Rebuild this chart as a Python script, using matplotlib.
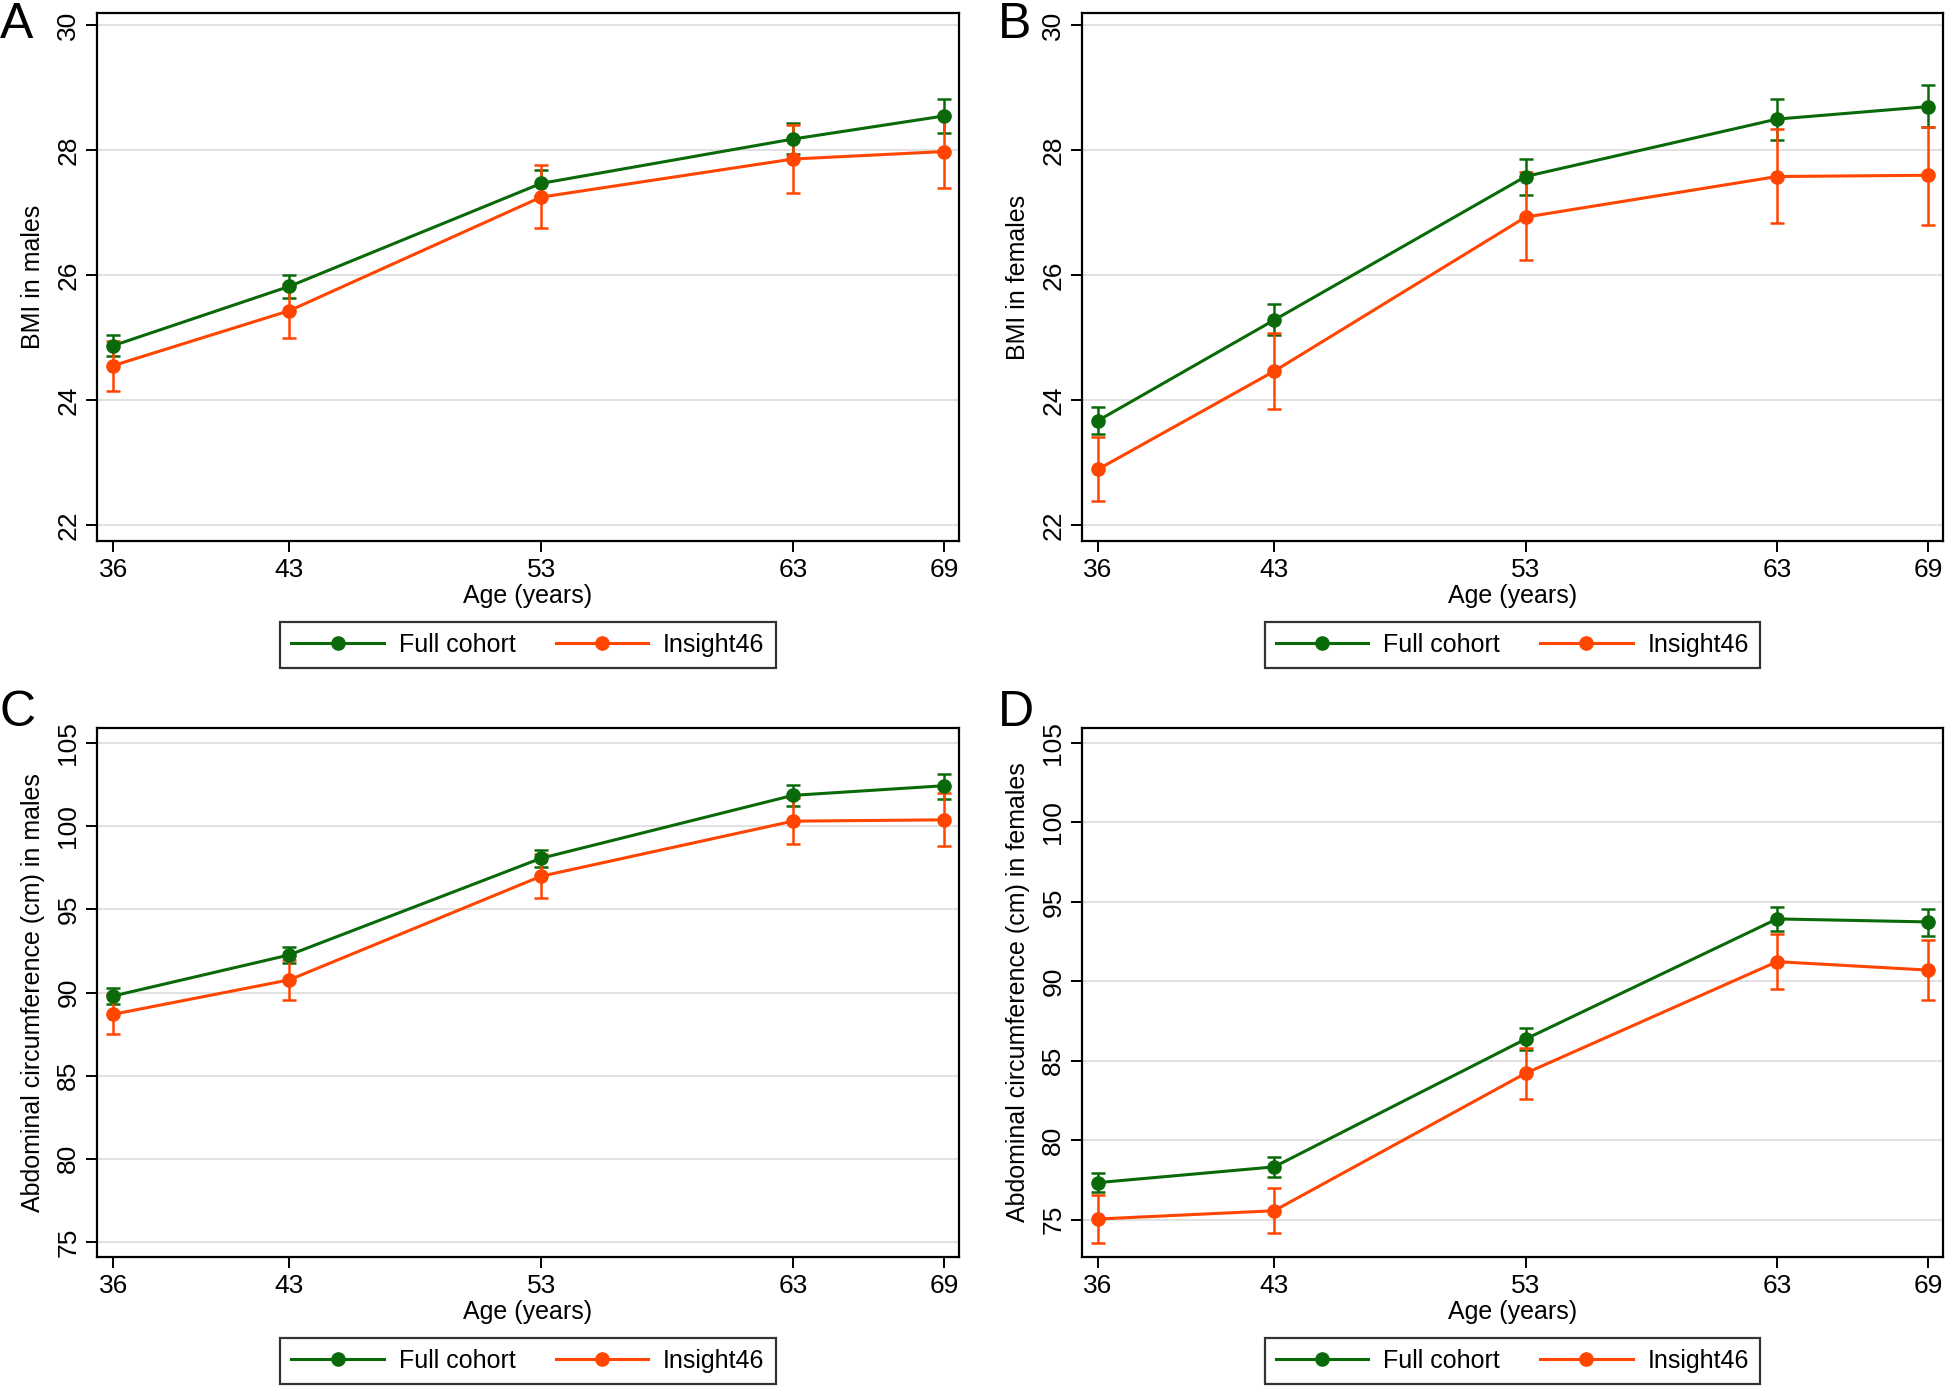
import matplotlib
matplotlib.use("Agg")
import matplotlib.pyplot as plt

plt.rcParams['font.family'] = ['Liberation Sans', 'DejaVu Sans']

ages = [36, 43, 53, 63, 69]

# BMI males (panel A)
bmi_m_full = [24.87, 25.82, 27.47, 28.18, 28.55]
bmi_m_full_lo = [24.70, 25.64, 27.26, 27.94, 28.27]
bmi_m_full_hi = [25.04, 26.00, 27.68, 28.43, 28.83]
bmi_m_ins = [24.55, 25.43, 27.25, 27.86, 27.98]
bmi_m_ins_lo = [24.15, 25.00, 26.76, 27.32, 27.39]
bmi_m_ins_hi = [24.95, 25.86, 27.77, 28.40, 28.57]

# BMI females (panel B)
bmi_f_full = [23.67, 25.28, 27.58, 28.50, 28.70]
bmi_f_full_lo = [23.46, 25.04, 27.28, 28.17, 28.37]
bmi_f_full_hi = [23.88, 25.53, 27.86, 28.82, 29.04]
bmi_f_ins = [22.89, 24.46, 26.93, 27.58, 27.60]
bmi_f_ins_lo = [22.38, 23.86, 26.24, 26.83, 26.81]
bmi_f_ins_hi = [23.41, 25.07, 27.66, 28.34, 28.38]

# Abdominal circumference males (panel C)
ac_m_full = [89.79, 92.26, 98.07, 101.85, 102.43]
ac_m_full_lo = [89.29, 91.79, 97.54, 101.19, 101.66]
ac_m_full_hi = [90.29, 92.73, 98.59, 102.45, 103.16]
ac_m_ins = [88.69, 90.76, 96.99, 100.30, 100.38]
ac_m_ins_lo = [87.50, 89.55, 95.67, 98.90, 98.83]
ac_m_ins_hi = [89.90, 91.95, 98.33, 101.70, 101.98]

# Abdominal circumference females (panel D)
ac_f_full = [77.34, 78.33, 86.37, 93.93, 93.74]
ac_f_full_lo = [76.73, 77.72, 85.68, 93.19, 92.83]
ac_f_full_hi = [77.92, 78.93, 87.05, 94.71, 94.57]
ac_f_ins = [75.05, 75.57, 84.22, 91.24, 90.71]
ac_f_ins_lo = [73.57, 74.14, 82.57, 89.53, 88.84]
ac_f_ins_hi = [76.54, 77.03, 85.81, 92.97, 92.61]

GREEN = '#0a6a0a'
ORANGE = '#ff4500'

fig = plt.figure(figsize=(19.46, 13.86), dpi=100)

W, H = 1946, 1386
def box(l, t, r, b):
    return [l / W, 1 - b / H, (r - l) / W, (b - t) / H]

panels = [
    ('A', box(97, 13, 959, 541), (0, 2), 'BMI in males', (21.74, 30.2), [22, 24, 26, 28, 30],
     (bmi_m_full, bmi_m_full_lo, bmi_m_full_hi), (bmi_m_ins, bmi_m_ins_lo, bmi_m_ins_hi)),
    ('B', box(1082, 13, 1943, 541), (998, 2), 'BMI in females', (21.74, 30.2), [22, 24, 26, 28, 30],
     (bmi_f_full, bmi_f_full_lo, bmi_f_full_hi), (bmi_f_ins, bmi_f_ins_lo, bmi_f_ins_hi)),
    ('C', box(97, 728, 959, 1257), (0, 690), 'Abdominal circumference (cm) in males', (74.1, 105.9),
     [75, 80, 85, 90, 95, 100, 105],
     (ac_m_full, ac_m_full_lo, ac_m_full_hi), (ac_m_ins, ac_m_ins_lo, ac_m_ins_hi)),
    ('D', box(1082, 728, 1943, 1257), (998, 690), 'Abdominal circumference (cm) in females', (72.66, 105.94),
     [75, 80, 85, 90, 95, 100, 105],
     (ac_f_full, ac_f_full_lo, ac_f_full_hi), (ac_f_ins, ac_f_ins_lo, ac_f_ins_hi)),
]

for letter, rect, lpos, ylab, ylim, yticks, full, ins in panels:
    ax = fig.add_axes(rect)
    handles = []
    for (m, lo, hi), col, name in [(full, GREEN, 'Full cohort'), (ins, ORANGE, 'Insight46')]:
        err = [[a - b for a, b in zip(m, lo)], [c - a for a, c in zip(m, hi)]]
        cont = ax.errorbar(ages, m, yerr=err, color=col, lw=2.2, marker='o', ms=9.5,
                           capsize=5, capthick=1.8, elinewidth=1.8, label=name)
        handles.append(cont.lines[0])
    ax.set_xlim(35.36, 69.6)
    ax.set_ylim(*ylim)
    ax.set_xticks(ages)
    ax.set_yticks(yticks)
    ax.grid(axis='y', color='#dcdcdc', lw=1.2)
    ax.set_axisbelow(True)
    for s in ax.spines.values():
        s.set_linewidth(1.6)
    ax.tick_params(axis='both', direction='out', length=8, width=1.4, labelsize=19, pad=4)
    for t in ax.get_yticklabels():
        t.set_rotation(90)
        t.set_va('center')
    ax.set_xlabel('Age (years)', fontsize=18, labelpad=2)
    ax.set_ylabel(ylab, fontsize=18, labelpad=8)
    leg = ax.legend(handles=handles, labels=['Full cohort', 'Insight46'],
                    loc='upper center', bbox_to_anchor=(0.5, -0.153), ncol=2, fontsize=18,
                    frameon=True, fancybox=False, edgecolor='black', handlelength=3.7,
                    handletextpad=0.6, columnspacing=1.6, borderpad=0.45, borderaxespad=0,
                    numpoints=1)
    leg.get_frame().set_linewidth(1.6)
    fig.text(lpos[0] / W, 1 - lpos[1] / H, letter, fontsize=36, ha='left', va='top')

fig.savefig('out.png', dpi=100)
